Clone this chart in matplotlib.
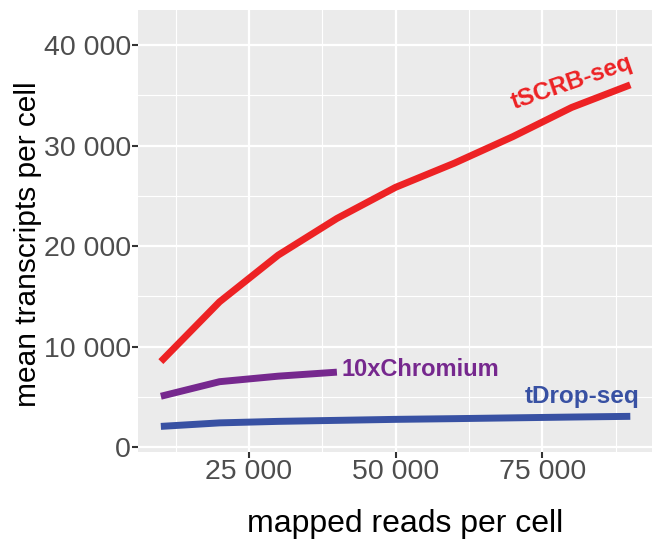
import matplotlib
matplotlib.use("Agg")
import matplotlib.pyplot as plt
from matplotlib.ticker import FixedLocator, FuncFormatter

plt.rcParams['font.family'] = ['Liberation Sans', 'DejaVu Sans']

# mapped reads per cell
reads = [10000, 20000, 30000, 40000, 50000, 60000, 70000, 80000, 90000]
tscrb = [8500, 14450, 19100, 22750, 25850, 28250, 30900, 33800, 36050]
reads_10x = [10000, 20000, 30000, 40000]
chromium = [5050, 6500, 7050, 7450]
tdrop = [2050, 2400, 2550, 2650, 2750, 2820, 2900, 2980, 3050]

x_ticks = [25000, 50000, 75000]
y_ticks = [0, 10000, 20000, 30000, 40000]

red = '#ED2224'
purple = '#76288E'
blue = '#3851A3'

fig = plt.figure(figsize=(6.53, 5.39), dpi=100)
ax = fig.add_axes([0.2113, 0.1614, 0.7872, 0.82])
ax.set_facecolor('#EBEBEB')
for s in ax.spines.values():
    s.set_visible(False)

ax.set_xlim(6100, 93700)
ax.set_ylim(-500, 43500)

# grid like ggplot
ax.xaxis.set_major_locator(FixedLocator(x_ticks))
ax.yaxis.set_major_locator(FixedLocator(y_ticks))
ax.xaxis.set_minor_locator(FixedLocator([12500, 37500, 62500, 87500]))
ax.yaxis.set_minor_locator(FixedLocator([5000, 15000, 25000, 35000]))
ax.grid(which='major', color='white', linewidth=1.6)
ax.grid(which='minor', color='white', linewidth=0.8)
ax.set_axisbelow(True)

fmt = FuncFormatter(lambda v, p: f"{int(v):,}".replace(",", " "))
ax.xaxis.set_major_formatter(fmt)
ax.yaxis.set_major_formatter(fmt)
ax.tick_params(which='major', length=4, width=1.5, color='#333333',
               labelsize=20.5, labelcolor='#4D4D4D', pad=1)
ax.tick_params(which='minor', length=0)

ax.plot(reads, tscrb, color=red, lw=5, solid_capstyle='butt')
ax.plot(reads_10x, chromium, color=purple, lw=5, solid_capstyle='butt')
ax.plot(reads, tdrop, color=blue, lw=5, solid_capstyle='butt')

ax.text(80000, 36300, 'tSCRB-seq', color=red, fontsize=17.5, fontweight='bold',
        rotation=19, ha='center', va='center')
ax.text(40800, 7700, '10xChromium', color=purple, fontsize=17,
        fontweight='bold', ha='left', va='center')
ax.text(91500, 5000, 'tDrop-seq', color=blue, fontsize=17.5,
        fontweight='bold', ha='right', va='center')

ax.set_xlabel('mapped reads per cell', fontsize=23, color='black')
ax.set_ylabel('mean transcripts per cell', fontsize=21.5, color='black')
ax.xaxis.set_label_coords(0.52, -0.128)
ax.yaxis.set_label_coords(-0.186, 0.47)

fig.savefig('out.png', dpi=100)
